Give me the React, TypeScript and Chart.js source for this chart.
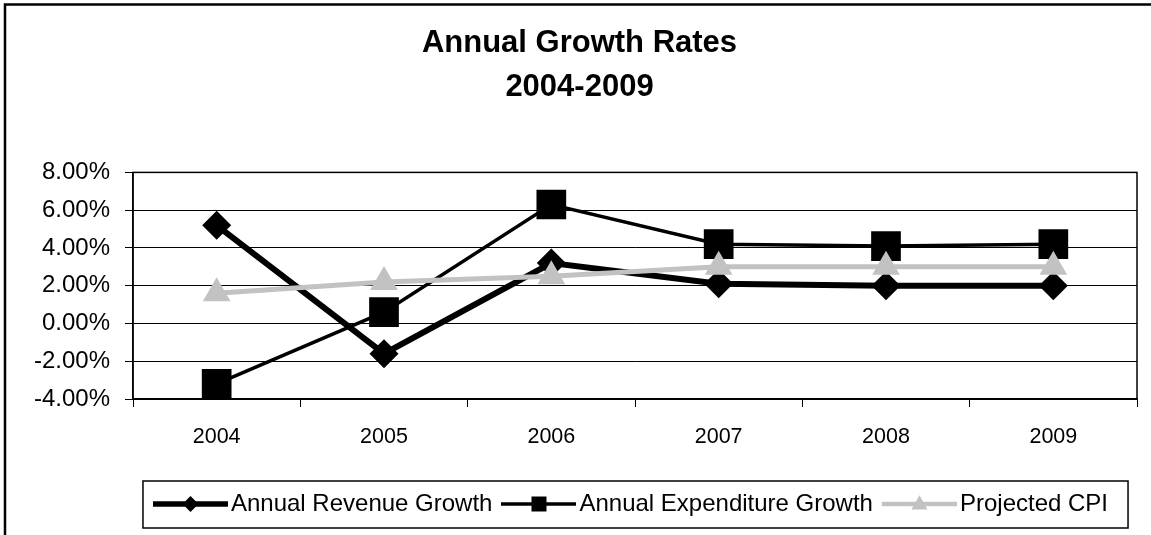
import React, { useEffect, useRef } from 'react';
import { Chart, registerables } from 'chart.js';

Chart.register(...registerables);

// ---- data ----
const years = ['2004', '2005', '2006', '2007', '2008', '2009'];
const revenueGrowth = [5.2, -1.6, 3.2, 2.1, 2.0, 2.0];
const expenditureGrowth = [-3.2, 0.6, 6.3, 4.2, 4.1, 4.2];
const projectedCPI = [1.6, 2.2, 2.5, 3.0, 3.0, 3.0];
const yMin = -4;
const yMax = 8;
const yStep = 2;
const titleLines = ['Annual Growth Rates', '2004-2009'];
const seriesNames = ['Annual Revenue Growth', 'Annual Expenditure Growth', 'Projected CPI'];

const FONT = "Arial, 'Liberation Sans', sans-serif";
const BLACK = '#000000';
const CPI_GREY = '#c2c2c2';

function makeIcon(kind: string, color: string, lineWidth: number, size: number) {
  const c = document.createElement('canvas');
  c.width = 75;
  c.height = 26;
  const ctx = c.getContext('2d')!;
  const cx = c.width / 2;
  const cy = c.height / 2;
  ctx.strokeStyle = color;
  ctx.lineWidth = lineWidth;
  ctx.beginPath();
  ctx.moveTo(0, cy);
  ctx.lineTo(c.width, cy);
  ctx.stroke();
  ctx.fillStyle = color;
  ctx.beginPath();
  if (kind === 'diamond') {
    ctx.moveTo(cx - size, cy);
    ctx.lineTo(cx, cy - size);
    ctx.lineTo(cx + size, cy);
    ctx.lineTo(cx, cy + size);
  } else if (kind === 'square') {
    ctx.rect(cx - size, cy - size, size * 2, size * 2);
  } else {
    ctx.moveTo(cx, cy - size * 1.1);
    ctx.lineTo(cx + size, cy + size * 0.7);
    ctx.lineTo(cx - size, cy + size * 0.7);
  }
  ctx.closePath();
  ctx.fill();
  return c;
}

const decorations = {
  id: 'decorations',
  beforeDatasetsDraw(chart: any) {
    const { ctx, chartArea } = chart;
    ctx.save();
    ctx.strokeStyle = BLACK;
    ctx.lineWidth = 1.5;
    ctx.strokeRect(chartArea.left, chartArea.top, chartArea.right - chartArea.left, chartArea.bottom - chartArea.top);
    ctx.restore();
  },
  afterDraw(chart: any) {
    const { ctx } = chart;
    ctx.save();
    // outer frame (top & left edges visible)
    ctx.strokeStyle = BLACK;
    ctx.lineWidth = 2.5;
    ctx.beginPath();
    ctx.moveTo(5, chart.height);
    ctx.lineTo(5, 4.5);
    ctx.lineTo(chart.width, 4.5);
    ctx.stroke();
    // legend box
    const lg = chart.legend;
    const hb = lg && lg.legendHitBoxes;
    if (hb && hb.length) {
      const first = hb[0];
      const last = hb[hb.length - 1];
      const cy = first.top + first.height / 2;
      const left = first.left - 19;
      const right = last.left + last.width + 20;
      ctx.lineWidth = 1.5;
      ctx.strokeRect(left, cy - 23, right - left, 47);
    }
    ctx.restore();
  },
};

export default function App() {
  const ref = useRef<HTMLCanvasElement>(null);

  useEffect(() => {
    document.body.style.margin = '0';
    document.body.style.overflow = 'hidden';
    const icons = [
      makeIcon('diamond', BLACK, 5.5, 8),
      makeIcon('square', BLACK, 3.5, 7.5),
      makeIcon('triangle', CPI_GREY, 4.5, 8),
    ];
    const chart = new Chart(ref.current!, {
      type: 'line',
      data: {
        labels: years,
        datasets: [
          {
            label: seriesNames[0],
            data: revenueGrowth,
            borderColor: BLACK,
            backgroundColor: BLACK,
            borderWidth: 6,
            pointStyle: 'rectRot',
            pointRadius: 14.5,
            pointBorderWidth: 0,
            order: 1,
          },
          {
            label: seriesNames[1],
            data: expenditureGrowth,
            borderColor: BLACK,
            backgroundColor: BLACK,
            borderWidth: 3.5,
            pointStyle: 'rect',
            pointRadius: 21,
            pointBorderWidth: 0,
            order: 2,
          },
          {
            label: seriesNames[2],
            data: projectedCPI,
            borderColor: CPI_GREY,
            backgroundColor: CPI_GREY,
            borderWidth: 5,
            pointStyle: 'triangle',
            pointRadius: 16,
            pointBorderWidth: 0,
            order: 0,
          },
        ],
      },
      options: {
        animation: false,
        responsive: true,
        maintainAspectRatio: false,
        layout: { autoPadding: false, padding: { left: 22, right: 14, top: 10, bottom: 9 } },
        plugins: {
          tooltip: { enabled: false },
          title: {
            display: true,
            text: titleLines,
            color: BLACK,
            font: { family: FONT, size: 31, weight: 'bold', lineHeight: 1.4 },
            padding: { top: 12, bottom: 63.6 },
          },
          legend: {
            position: 'bottom',
            fullSize: false,
            labels: {
              color: BLACK,
              font: { family: FONT, size: 24 },
              usePointStyle: true,
              pointStyleWidth: 57,
              padding: 18,
              generateLabels: (ch: any) =>
                ch.data.datasets.map((ds: any, i: number) => ({
                  text: ds.label,
                  pointStyle: icons[i],
                  fillStyle: ds.backgroundColor,
                  strokeStyle: ds.borderColor,
                  lineWidth: 0,
                  hidden: false,
                  datasetIndex: i,
                  fontColor: BLACK,
                })),
            },
          },
        },
        scales: {
          x: {
            offset: true,
            grid: { display: true, drawOnChartArea: false, offset: true, tickLength: 8, color: BLACK },
            border: { display: true, color: BLACK, width: 1.5 },
            ticks: { color: BLACK, font: { family: FONT, size: 21.5 }, padding: 17, maxRotation: 0 },
            afterFit: (s: any) => {
              s.height = 75;
              s.paddingLeft = 0;
              s.paddingRight = 0;
            },
          },
          y: {
            min: yMin,
            max: yMax,
            grid: { color: BLACK, lineWidth: 1, tickLength: 8 },
            border: { display: true, color: BLACK, width: 1.5 },
            ticks: {
              stepSize: yStep,
              color: BLACK,
              font: { family: FONT, size: 24 },
              padding: 15,
              callback: (v: any) => Number(v).toFixed(2) + '%',
            },
            afterFit: (s: any) => {
              s.width = 111;
            },
          },
        },
      },
      plugins: [decorations],
    });
    return () => chart.destroy();
  }, []);

  return (
    <div style={{ position: 'relative', width: 1151, height: 535, background: '#fff' }}>
      <canvas ref={ref} />
    </div>
  );
}
